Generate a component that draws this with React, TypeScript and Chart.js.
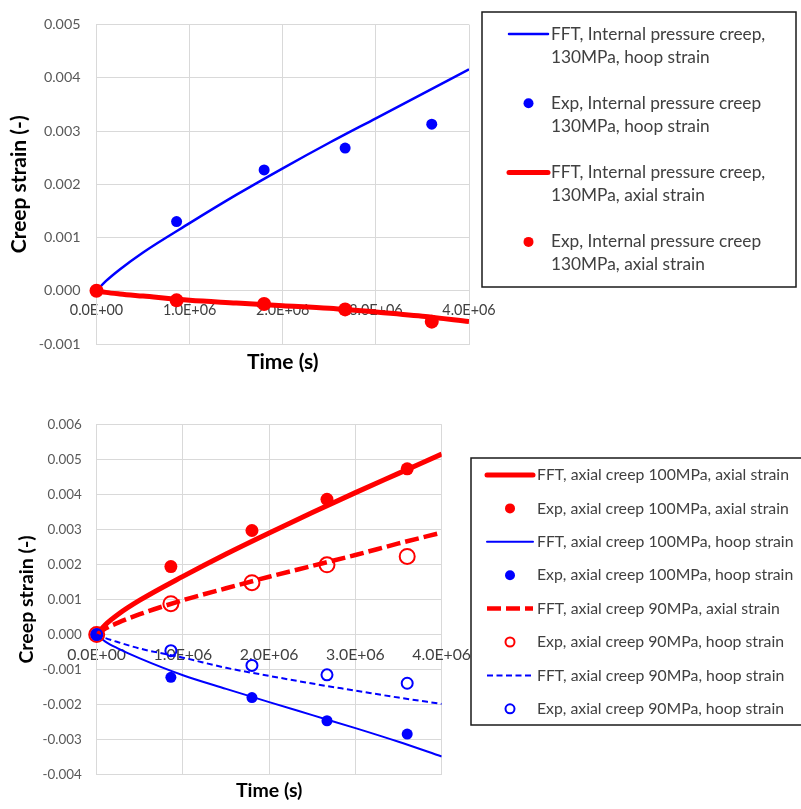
import React, { useEffect, useRef } from "react";
import { Chart, registerables } from "chart.js";

Chart.register(...registerables);

const FONT = "Lato, 'Open Sans', sans-serif";

// ---------- shared time axes ----------
const fftTime = [0, 0.1e6, 0.25e6, 0.5e6, 1e6, 1.5e6, 2e6, 2.5e6, 3e6, 3.5e6, 4e6];
const expTime = [0, 0.86e6, 1.8e6, 2.67e6, 3.6e6];

// ---------- top chart: internal pressure creep 130 MPa ----------
const fftHoop130 = [0, 0.00018, 0.0004, 0.00072, 0.00127, 0.0018, 0.0023, 0.00278, 0.00324, 0.0037, 0.00416];
const expHoop130 = [0, 0.0013, 0.00227, 0.00268, 0.00313];
const fftAxial130 = [0, -0.00003, -0.00006, -0.0001, -0.00018, -0.00023, -0.00028, -0.00033, -0.0004, -0.00048, -0.00058];
const expAxial130 = [0, -0.00018, -0.00025, -0.00035, -0.00058];

// ---------- bottom chart: axial creep 100 / 90 MPa ----------
const fftAxial100 = [0, 0.00028, 0.00058, 0.00098, 0.00166, 0.0023, 0.0029, 0.00348, 0.00405, 0.0046, 0.00515];
const expAxial100 = [0, 0.00194, 0.00297, 0.00386, 0.00473];
const fftHoop100 = [0, -0.0002, -0.0004, -0.00068, -0.00116, -0.00155, -0.00193, -0.0023, -0.00267, -0.00306, -0.00348];
const expHoop100 = [0, -0.00122, -0.0018, -0.00246, -0.00284];
const fftAxial90 = [0, 0.00017, 0.00034, 0.00058, 0.00098, 0.00132, 0.00165, 0.00196, 0.00227, 0.0026, 0.00291];
const expAxial90 = [0, 0.00088, 0.00148, 0.00199, 0.00223];
const fftHoop90 = [0, -0.0001, -0.00022, -0.0004, -0.00066, -0.00095, -0.00118, -0.0014, -0.0016, -0.0018, -0.00198];
const expHoop90 = [0, -0.00046, -0.00088, -0.00115, -0.00139];

// ---------- labels ----------
const topLegendLabels = [
  ["FFT, Internal pressure creep,", "130MPa, hoop strain"],
  ["Exp, Internal pressure creep", "130MPa, hoop strain"],
  ["FFT, Internal pressure creep,", "130MPa, axial strain"],
  ["Exp, Internal pressure creep", "130MPa, axial strain"],
];
const bottomLegendLabels = [
  ["FFT, axial creep 100MPa, axial strain"],
  ["Exp, axial creep 100MPa, axial strain"],
  ["FFT, axial creep 100MPa, hoop strain"],
  ["Exp, axial creep 100MPa, hoop strain"],
  ["FFT, axial creep 90MPa, axial strain"],
  ["Exp, axial creep 90MPa, hoop strain"],
  ["FFT, axial creep 90MPa, hoop strain"],
  ["Exp, axial creep 90MPa, hoop strain"],
];
const xTitle = "Time (s)";
const yTitle = "Creep strain (-)";

const RED = "#ff0000";
const BLUE = "#0000ff";

function fmtE(v: number): string {
  if (v === 0) return "0.0E+00";
  const e = Math.floor(Math.log10(Math.abs(v)) + 1e-9);
  const m = v / Math.pow(10, e);
  return `${m.toFixed(1)}E${e >= 0 ? "+" : "-"}${String(Math.abs(e)).padStart(2, "0")}`;
}

function pts(xs: number[], ys: number[]) {
  return xs.map((x, i) => ({ x, y: ys[i] }));
}

type Style = {
  kind: "line" | "marker";
  color: string;
  width?: number;
  dash?: number[];
  radius?: number;
  filled?: boolean;
};

function lineDs(label: string, ys: number[], s: Style) {
  return {
    label,
    data: pts(fftTime, ys),
    showLine: true,
    borderColor: s.color,
    backgroundColor: s.color,
    borderWidth: s.width,
    borderDash: s.dash || [],
    borderCapStyle: "butt",
    pointRadius: 0,
    pointHoverRadius: 0,
    tension: 0.4,
    cubicInterpolationMode: "monotone",
  };
}

function markerDs(label: string, ys: number[], s: Style) {
  return {
    label,
    data: pts(expTime, ys),
    showLine: false,
    pointStyle: "circle",
    pointRadius: s.radius,
    pointHoverRadius: s.radius,
    pointBorderWidth: s.filled ? 0 : 2,
    pointBackgroundColor: s.filled ? s.color : "rgba(0,0,0,0)",
    pointBorderColor: s.color,
    clip: false,
  };
}

type LegendCfg = {
  box: { x: number; y: number; w: number; h: number };
  firstY: number;
  itemGap: number;
  lineGap: number;
  sampleX0: number;
  sampleX1: number;
  textX: number;
  fontSize: number;
  styles: Style[];
  labels: string[][];
};

function legendPlugin(cfg: LegendCfg) {
  return {
    id: "boxLegend",
    afterDraw(chart: any) {
      const ctx = chart.ctx as CanvasRenderingContext2D;
      ctx.save();
      ctx.strokeStyle = "#1a1a1a";
      ctx.lineWidth = 1.5;
      ctx.strokeRect(cfg.box.x, cfg.box.y, cfg.box.w, cfg.box.h);
      ctx.font = `${cfg.fontSize}px ${FONT}`;
      ctx.fillStyle = "#404040";
      ctx.textBaseline = "middle";
      ctx.textAlign = "left";
      cfg.styles.forEach((s, i) => {
        const y = cfg.firstY + i * cfg.itemGap;
        if (s.kind === "line") {
          ctx.save();
          ctx.strokeStyle = s.color;
          ctx.lineWidth = s.width || 2;
          ctx.lineCap = s.dash ? "butt" : "round";
          ctx.setLineDash(s.dash || []);
          ctx.beginPath();
          ctx.moveTo(cfg.sampleX0, y);
          ctx.lineTo(cfg.sampleX1, y);
          ctx.stroke();
          ctx.restore();
        } else {
          ctx.save();
          const cx = (cfg.sampleX0 + cfg.sampleX1) / 2;
          ctx.beginPath();
          ctx.arc(cx, y, s.radius || 5, 0, Math.PI * 2);
          if (s.filled) {
            ctx.fillStyle = s.color;
            ctx.fill();
          } else {
            ctx.strokeStyle = s.color;
            ctx.lineWidth = 2;
            ctx.stroke();
          }
          ctx.restore();
        }
        cfg.labels[i].forEach((t, j) => {
          ctx.fillText(t, cfg.textX, y + j * cfg.lineGap);
        });
      });
      ctx.restore();
    },
  };
}

type AxisCfg = {
  yMin: number;
  yMax: number;
  yWidth: number;
  xHeight: number;
  yTickSize: number;
  xTickSize: number;
  titleSize: number;
  yTickPad: number;
  xTickPad: number;
  xTitlePad: number;
  yTitlePad: number;
  padTop: number;
  padRight: number;
};

function makeConfig(datasets: any[], a: AxisCfg, legend: LegendCfg) {
  const n = datasets.length;
  datasets.forEach((d, i) => (d.order = n - i));
  return {
    type: "scatter",
    data: { datasets },
    options: {
      animation: false,
      responsive: false,
      maintainAspectRatio: false,
      events: [],
      layout: { padding: { top: a.padTop, right: a.padRight, left: 0, bottom: 0 } },
      plugins: { legend: { display: false }, tooltip: { enabled: false }, title: { display: false } },
      scales: {
        x: {
          type: "linear",
          position: "bottom",
          min: 0,
          max: 4e6,
          ticks: { display: false, stepSize: 1e6 },
          grid: { color: "#d9d9d9", drawTicks: false, lineWidth: 1 },
          border: { color: "#d9d9d9" },
          title: {
            display: true,
            text: xTitle,
            color: "#000",
            font: { family: FONT, size: a.titleSize, weight: "bold" },
            padding: { top: 0, bottom: a.xTitlePad },
          },
          afterFit: (s: any) => {
            s.height = a.xHeight;
          },
        },
        x2: {
          type: "linear",
          position: { y: 0 },
          min: 0,
          max: 4e6,
          ticks: {
            stepSize: 1e6,
            autoSkip: false,
            maxRotation: 0,
            color: "#404040",
            padding: a.xTickPad,
            font: { family: FONT, size: a.xTickSize },
            callback: (v: number) => fmtE(v),
          },
          grid: { display: false, drawTicks: false },
          border: { display: false },
          afterFit: (s: any) => {
            s.height = 0;
          },
        },
        y: {
          type: "linear",
          position: "left",
          min: a.yMin,
          max: a.yMax,
          ticks: {
            stepSize: 0.001,
            color: "#595959",
            padding: a.yTickPad,
            font: { family: FONT, size: a.yTickSize },
            callback: (v: number) => Number(v).toFixed(3),
          },
          grid: { color: "#d9d9d9", drawTicks: false, lineWidth: 1 },
          border: { color: "#d9d9d9" },
          title: {
            display: true,
            text: yTitle,
            color: "#000",
            font: { family: FONT, size: a.titleSize, weight: "bold" },
            padding: { top: a.yTitlePad, bottom: 0 },
          },
          afterFit: (s: any) => {
            s.width = a.yWidth;
          },
        },
      },
    },
    plugins: [legendPlugin(legend)],
  };
}

const topStyles: Style[] = [
  { kind: "line", color: BLUE, width: 2.5 },
  { kind: "marker", color: BLUE, radius: 5.5, filled: true },
  { kind: "line", color: RED, width: 5 },
  { kind: "marker", color: RED, radius: 7, filled: true },
];
const topLegendStyles: Style[] = [
  { kind: "line", color: BLUE, width: 2.5 },
  { kind: "marker", color: BLUE, radius: 5, filled: true },
  { kind: "line", color: RED, width: 5 },
  { kind: "marker", color: RED, radius: 5, filled: true },
];

const bottomStyles: Style[] = [
  { kind: "line", color: RED, width: 5 },
  { kind: "marker", color: RED, radius: 6.5, filled: true },
  { kind: "line", color: BLUE, width: 2 },
  { kind: "marker", color: BLUE, radius: 5.5, filled: true },
  { kind: "line", color: RED, width: 4.5, dash: [14, 5] },
  { kind: "marker", color: RED, radius: 7.5, filled: false },
  { kind: "line", color: BLUE, width: 2, dash: [6, 3.5] },
  { kind: "marker", color: BLUE, radius: 5.5, filled: false },
];
const bottomLegendStyles: Style[] = [
  { kind: "line", color: RED, width: 5 },
  { kind: "marker", color: RED, radius: 5, filled: true },
  { kind: "line", color: BLUE, width: 2 },
  { kind: "marker", color: BLUE, radius: 5, filled: true },
  { kind: "line", color: RED, width: 4.5, dash: [14, 5] },
  { kind: "marker", color: RED, radius: 4.5, filled: false },
  { kind: "line", color: BLUE, width: 2, dash: [6, 3.5] },
  { kind: "marker", color: BLUE, radius: 4.5, filled: false },
];

function topChartConfig() {
  const ds = [
    lineDs(topLegendLabels[0].join(" "), fftHoop130, topStyles[0]),
    markerDs(topLegendLabels[1].join(" "), expHoop130, topStyles[1]),
    lineDs(topLegendLabels[2].join(" "), fftAxial130, topStyles[2]),
    markerDs(topLegendLabels[3].join(" "), expAxial130, topStyles[3]),
  ];
  return makeConfig(
    ds,
    {
      yMin: -0.001,
      yMax: 0.005,
      yWidth: 96.5,
      xHeight: 41,
      yTickSize: 14.3,
      xTickSize: 14.4,
      titleSize: 21,
      yTickPad: 16,
      xTickPad: 11,
      xTitlePad: 10,
      yTitlePad: 7,
      padTop: 11,
      padRight: 801 - 469,
    },
    {
      box: { x: 482, y: 12, w: 314, h: 275 },
      firstY: 34,
      itemGap: 69.3,
      lineGap: 23,
      sampleX0: 509,
      sampleX1: 548,
      textX: 551,
      fontSize: 17.3,
      styles: topLegendStyles,
      labels: topLegendLabels,
    }
  );
}

function bottomChartConfig() {
  const ds = [
    lineDs(bottomLegendLabels[0][0], fftAxial100, bottomStyles[0]),
    markerDs(bottomLegendLabels[1][0], expAxial100, bottomStyles[1]),
    lineDs(bottomLegendLabels[2][0], fftHoop100, bottomStyles[2]),
    markerDs(bottomLegendLabels[3][0], expHoop100, bottomStyles[3]),
    lineDs(bottomLegendLabels[4][0], fftAxial90, bottomStyles[4]),
    markerDs(bottomLegendLabels[5][0], expAxial90, bottomStyles[5]),
    lineDs(bottomLegendLabels[6][0], fftHoop90, bottomStyles[6]),
    markerDs(bottomLegendLabels[7][0], expHoop90, bottomStyles[7]),
  ];
  return makeConfig(
    ds,
    {
      yMin: -0.004,
      yMax: 0.006,
      yWidth: 96.7,
      xHeight: 34.3,
      yTickSize: 13.4,
      xTickSize: 15.8,
      titleSize: 19.5,
      yTickPad: 15,
      xTickPad: 11,
      xTitlePad: 7,
      yTitlePad: 15,
      padTop: 34.3,
      padRight: 801 - 441.7,
    },
    {
      box: { x: 471, y: 68, w: 345, h: 267 },
      firstY: 85,
      itemGap: 33.4,
      lineGap: 0,
      sampleX0: 487,
      sampleX1: 533,
      textX: 537,
      fontSize: 15.8,
      styles: bottomLegendStyles,
      labels: bottomLegendLabels,
    }
  );
}

function ChartCanvas({ make, width, height, top }: { make: () => any; width: number; height: number; top: number }) {
  const ref = useRef<HTMLCanvasElement | null>(null);
  useEffect(() => {
    if (!ref.current) return;
    const chart = new Chart(ref.current, make());
    return () => chart.destroy();
  }, [make]);
  return (
    <canvas
      ref={ref}
      width={width}
      height={height}
      style={{ position: "absolute", left: 0, top, width, height, display: "block" }}
    />
  );
}

export default function App() {
  return (
    <div style={{ position: "absolute", left: 0, top: 0, width: 801, height: 809, background: "#fff", overflow: "hidden" }}>
      <ChartCanvas make={topChartConfig} width={801} height={385} top={0} />
      <ChartCanvas make={bottomChartConfig} width={801} height={419} top={390} />
    </div>
  );
}
